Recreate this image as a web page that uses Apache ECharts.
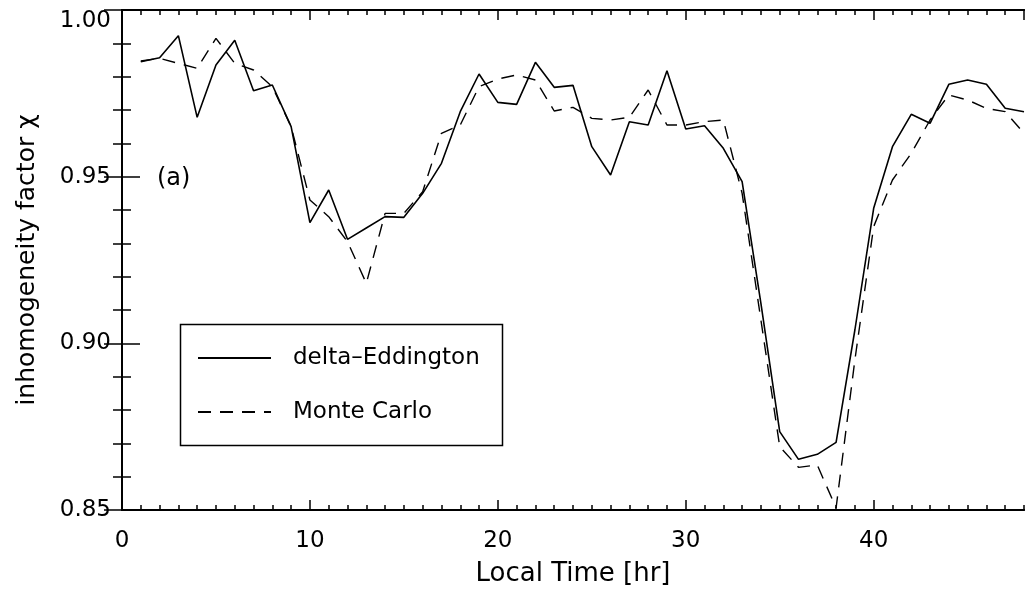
<!DOCTYPE html>
<html>
<head>
<meta charset="utf-8">
<script src="https://cdn.jsdelivr.net/npm/echarts@6/dist/echarts.min.js"></script>
<style>
  html, body { margin: 0; padding: 0; background: #fff; }
  #chart { width: 1029px; height: 598px; }
</style>
</head>
<body>
<div id="chart"></div>
<script>
// ---- data ----
const hours = [1,2,3,4,5,6,7,8,9,10,11,12,13,14,15,16,17,18,19,20,21,22,23,24,
               25,26,27,28,29,30,31,32,33,34,35,36,37,38,39,40,41,42,43,44,45,46,47,48];
const deltaEddington = [0.9845,0.9857,0.9923,0.9678,0.9835,0.9909,0.9758,0.9775,0.9650,0.9362,
                        0.9460,0.9312,0.9346,0.9380,0.9378,0.9450,0.9540,0.9695,0.9808,0.9723,
                        0.9717,0.9843,0.9768,0.9774,0.9590,0.9505,0.9665,0.9655,0.9818,0.9643,
                        0.9653,0.9585,0.9485,0.9120,0.8735,0.8652,0.8667,0.8703,0.9040,0.9405,
                        0.9590,0.9687,0.9660,0.9777,0.9790,0.9777,0.9705,0.9695];
const monteCarlo = [0.9847,0.9855,0.9840,0.9825,0.9915,0.9840,0.9820,0.9770,0.9650,0.9430,
                    0.9380,0.9305,0.9180,0.9390,0.9390,0.9455,0.9630,0.9655,0.9770,0.9793,
                    0.9805,0.9790,0.9697,0.9708,0.9675,0.9670,0.9678,0.9760,0.9655,0.9655,
                    0.9665,0.9670,0.9450,0.9070,0.8690,0.8628,0.8635,0.8506,0.8950,0.9350,
                    0.9490,0.9570,0.9670,0.9745,0.9730,0.9705,0.9695,0.9630];
const seriesNames = ['delta\u2013Eddington', 'Monte Carlo'];
const xName = 'Local Time [hr]';
const yName = 'inhomogeneity factor \u03c7';
const panelLabel = '(a)';

const FONT = 'DejaVu Sans';
const chart = echarts.init(document.getElementById('chart'), null, {renderer: 'canvas'});

const axisLine = {show: true, lineStyle: {color: '#000', width: 2}};
function xAx(pos, interval, tickLen, showLabel) {
  return {
    type: 'value', position: pos, min: 0, max: 48, interval: interval,
    axisLine: axisLine,
    axisTick: {show: true, inside: true, length: tickLen, lineStyle: {color: '#000', width: 1.5}},
    axisLabel: {show: showLabel, color: '#000', fontFamily: FONT, fontSize: 23, margin: 20, showMaxLabel: false},
    splitLine: {show: false}
  };
}
function yAx(pos, showLabel) {
  return {
    type: 'value', position: pos, min: 0.85, max: 1.0, interval: 0.05,
    axisLine: axisLine,
    axisTick: {show: true, inside: true, length: 18, lineStyle: {color: '#000', width: 1.5}},
    minorTick: {show: true, splitNumber: 5, length: 9, lineStyle: {color: '#000', width: 1.5}},
    axisLabel: {show: showLabel, color: '#000', fontFamily: FONT, fontSize: 23, margin: 11,
                verticalAlignMaxLabel: 'top',
                formatter: v => v.toFixed(2)},
    splitLine: {show: false}, minorSplitLine: {show: false}
  };
}

const xMain = xAx('bottom', 10, 10, true);
xMain.name = xName;
xMain.nameLocation = 'middle';
xMain.nameGap = 51;
xMain.nameTextStyle = {color: '#000', fontFamily: FONT, fontSize: 26};

const yMain = yAx('left', true);
yMain.name = yName;
yMain.nameLocation = 'middle';
yMain.nameGap = 82;
yMain.nameTextStyle = {color: '#000', fontFamily: FONT, fontSize: 25};

const option = {
  backgroundColor: '#fff',
  animation: false,
  grid: {left: 122, top: 10, right: 5, bottom: 88, containLabel: false},
  xAxis: [xMain, xAx('bottom', 1, 5, false), xAx('top', 10, 10, false), xAx('top', 1, 5, false)],
  yAxis: [yMain, yAx('right', false)],
  legend: {
    orient: 'vertical', left: 197, top: 346, padding: 0,
    itemWidth: 73, itemHeight: 24, itemGap: 30,
    itemStyle: {opacity: 0, borderWidth: 0},
    textStyle: {color: '#000', fontFamily: FONT, fontSize: 23, lineHeight: 24, padding: [0, 0, 0, 17]},
    data: seriesNames
  },
  graphic: [
    {type: 'rect', left: 178, top: 322, z: 100, silent: true,
     shape: {width: 322, height: 121}, style: {fill: null, stroke: '#000', lineWidth: 1.5}},
    {type: 'text', left: 157, top: 167, z: 100, silent: true,
     style: {text: panelLabel, fill: '#000', font: '24px "DejaVu Sans"'}}
  ],
  series: [
    {
      name: seriesNames[0], type: 'line', xAxisIndex: 0, yAxisIndex: 0,
      data: hours.map((h, i) => [h, deltaEddington[i]]),
      symbol: 'none', lineStyle: {color: '#000', width: 1.6, type: 'solid'},
      itemStyle: {color: '#000'}
    },
    {
      name: seriesNames[1], type: 'line', xAxisIndex: 0, yAxisIndex: 0,
      data: hours.map((h, i) => [h, monteCarlo[i]]),
      symbol: 'none', lineStyle: {color: '#000', width: 1.4, type: [13, 9]},
      itemStyle: {color: '#000'}
    }
  ]
};
chart.setOption(option);
</script>
</body>
</html>
